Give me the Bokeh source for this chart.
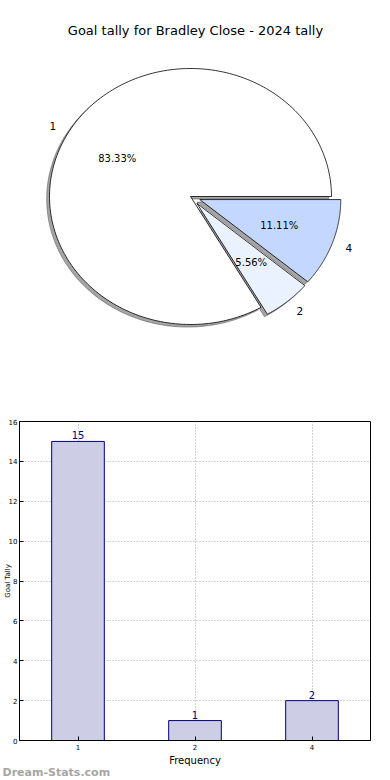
import numpy as np
from bokeh.plotting import figure
from bokeh.layouts import column
from bokeh.models import Label, Range1d, FactorRange, ColumnDataSource, Title
from bokeh.core.properties import value
from bokeh.embed import file_html
from bokeh.resources import INLINE

# ---- data ----
title_text = "Goal tally for Bradley Close - 2024 tally"
categories = ["1", "2", "4"]
counts = [15, 1, 2]
pie_colors = ["#ffffff", "#eaf1ff", "#c4d8ff"]
explode = [0.0, 0.07, 0.07]
y_ticks = [0, 2, 4, 6, 8, 10, 12, 14, 16]
x_label = "Frequency"
y_label = "Goal Tally"
watermark = "Dream-Stats.com"

FONT = "DejaVu Sans"
W = 390
BL, BR = 19, 20                 # shared left/right borders (frames align in a column)

# ---- pie figure ----
H1 = 400
RX, RY = 141.0, 128.0           # pixel size of unit radius (elliptical pie)
CX, CY = 190.0 - BL, 196.0      # pie centre in frame pixels (from frame left / top)
FW1 = W - BL - BR
p1 = figure(width=W, height=H1, output_backend="svg", toolbar_location=None,
            min_border_left=BL, min_border_right=BR, min_border_top=0, min_border_bottom=0,
            x_axis_type=None, y_axis_type=None,
            x_range=Range1d(-CX / RX, (FW1 - CX) / RX),
            y_range=Range1d(-(H1 - CY) / RY, CY / RY))
p1.outline_line_color = None
p1.grid.visible = False

total = float(sum(counts))
fracs = [c / total for c in counts]
angles = np.cumsum([0.0] + [f * 360.0 for f in fracs])

xs, ys, sxs, sys_, tx, ty, lx, ly, lalign, pct = [], [], [], [], [], [], [], [], [], []
for i, f in enumerate(fracs):
    t1, t2 = angles[i], angles[i + 1]
    mid = np.deg2rad((t1 + t2) / 2.0)
    ox, oy = explode[i] * np.cos(mid), explode[i] * np.sin(mid)
    th = np.deg2rad(np.linspace(t1, t2, 200))
    px = np.concatenate([[ox], ox + np.cos(th), [ox]])
    py = np.concatenate([[oy], oy + np.sin(th), [oy]])
    xs.append(list(px)); ys.append(list(py))
    sxs.append(list(px - 0.02)); sys_.append(list(py - 0.02))
    tx.append(ox + 0.6 * np.cos(mid)); ty.append(oy + 0.6 * np.sin(mid))
    lx.append(ox + 1.1 * np.cos(mid)); ly.append(oy + 1.1 * np.sin(mid))
    lalign.append("left" if np.cos(mid) > 0 else "right")
    pct.append("%.2f%%" % (f * 100))

p1.patches(xs=sxs, ys=sys_, fill_color="#4d4d4d", fill_alpha=0.5,
           line_color="#4d4d4d", line_alpha=0.5, line_width=1)
p1.patches(xs=xs, ys=ys, fill_color=pie_colors, line_color="black", line_width=0.8)

src_t = ColumnDataSource(dict(x=tx, y=ty, t=pct))
p1.text(x="x", y="y", text="t", source=src_t, text_font=value(FONT),
        text_font_size="10px", text_align="center", text_baseline="middle",
        text_color="black")
src_l = ColumnDataSource(dict(x=lx, y=ly, t=categories, a=lalign))
p1.text(x="x", y="y", text="t", source=src_l, text_font=value(FONT),
        text_font_size="10.5px", text_align="a", text_baseline="middle",
        text_color="black")

p1.add_layout(Label(x=195 - BL, y=H1 - 30, x_units="screen", y_units="screen",
                    text=title_text, text_font=FONT, text_font_size="13px",
                    text_align="center", text_baseline="middle", text_color="black"))

# ---- bar figure ----
H2 = 378
TOP2, BOT2 = 21, 38
p2 = figure(width=W, height=H2, output_backend="svg", toolbar_location=None,
            x_range=FactorRange(*categories), y_range=Range1d(0, 16),
            min_border_top=TOP2, min_border_bottom=BOT2,
            min_border_left=BL, min_border_right=BR)
p2.vbar(x=categories, top=counts, width=0.45, fill_color="#cdcde6",
        line_color="#000080", line_width=1)
p2.text(x=categories, y=counts, text=[str(c) for c in counts], y_offset=-2,
        text_font=value(FONT), text_font_size="10px", text_align="center",
        text_baseline="bottom", text_color="#00008b")

p2.outline_line_color = "black"
p2.outline_line_width = 1
p2.yaxis.ticker = y_ticks
for ax in (p2.xaxis, p2.yaxis):
    ax.axis_line_color = "black"
    ax.major_tick_in = 4
    ax.major_tick_out = 0
    ax.minor_tick_in = 0
    ax.minor_tick_out = 0
    ax.major_label_text_font = FONT
    ax.major_label_text_font_size = "7px"
    ax.major_label_text_color = "black"
    ax.major_label_standoff = 3
    ax.axis_label_text_font = FONT
    ax.axis_label_text_font_style = "normal"
    ax.axis_label_text_color = "black"
p2.xaxis.axis_label = x_label
p2.xaxis.axis_label_text_font_size = "10px"
p2.xaxis.axis_label_standoff = 2
p2.yaxis.axis_label = y_label
p2.yaxis.axis_label_text_font_size = "7px"
p2.yaxis.axis_label_standoff = -6
p2.yaxis.major_label_standoff = 2
p2.xgrid.grid_line_color = "#a8a8a8"
p2.ygrid.grid_line_color = "#a8a8a8"
p2.xgrid.grid_line_dash = "1 2"
p2.ygrid.grid_line_dash = "1 2"
p2.xgrid.grid_line_width = 1
p2.ygrid.grid_line_width = 1

p2.add_layout(Title(text=watermark, align="left", offset=-BL + 2, standoff=-10,
                    text_font=FONT, text_font_size="11px", text_font_style="bold",
                    text_color="#a6a6a6"), "below")

layout = column(p1, p2, spacing=0)
open("out.html", "w").write(file_html(layout, INLINE))
